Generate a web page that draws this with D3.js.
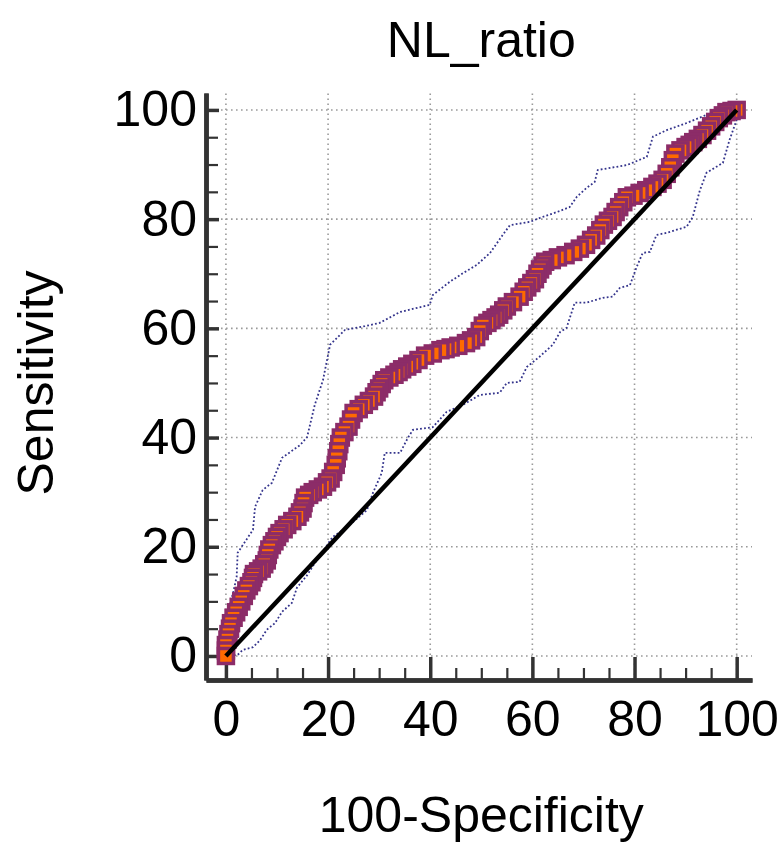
<!DOCTYPE html>
<html>
<head>
<meta charset="utf-8">
<script src="https://cdn.jsdelivr.net/npm/d3@7"></script>
<style>
  html, body { margin: 0; padding: 0; background: #fff; }
  svg { display: block; }
  text { font-family: "Liberation Sans", Arial, sans-serif; fill: #000; }
</style>
</head>
<body>
<svg id="chart" width="783" height="846"></svg>
<script>
// ROC curve points (100-Specificity, Sensitivity)
const rocX = [0,0,0,0.3,0.5,0.8,1,1.5,2,2.5,3,3.5,4,4.5,5,5.3,5.5,6.3,7,7.5,8,8.2,8.5,9,9.5,10,10.5,11.3,12,13,14,14.5,15,15.2,15.5,16.3,17,18,19,19.8,20.5,21,21.5,21.7,22,22.2,22.5,23.2,24,24.5,25,26,27,28,29,29.5,30,30.5,31,32,33,33.8,34.5,35.5,36.5,37.7,39,40.5,42,43,44,45.5,47,48,49,49.7,50.3,51.2,52,52.8,53.5,54.3,55,56.2,57.5,58.3,59,59.8,60.5,61,61.5,62,62.5,63.8,65,66.5,68,69.3,70.5,71.5,72.5,73.3,74,74.8,75.7,76.3,77,77.8,78.5,79.8,81,82.3,83.5,84.5,85.5,86.3,87,87.5,88,89,90,90.8,91.5,92.4,93.3,94.2,95,95.8,96.5,97.3,98,99,100];
const rocY = [0,1,2,3,4,5,6,7,8,9,10,11,12,12.8,13.5,14.3,15,15.5,16,16.8,17.5,18.5,19.5,20.3,21,21.8,22.5,23.2,24,24.7,25.5,26.3,27,28,29,29.5,30,30.5,31,31.8,32.5,33.7,35,36.2,37.5,38.8,40,41,42,43.3,44.5,45.2,46,46.7,47.5,48.3,49,49.8,50.5,51,51.5,52,52.5,53,53.5,54.2,55,55.4,56,56.2,56.5,56.8,57.3,57.8,58.4,59.5,60.5,61,61.5,62,62.5,63.3,64,64.8,65.8,66.7,67.5,68.3,69,70,70.8,71.5,72.2,72.5,73,73.4,74,74.6,75.3,76.2,77,78,79,79.7,80.4,81.3,82.2,83.1,84,84.3,84.8,85.3,85.9,86.5,87.2,88.3,89.5,90.8,92,92.6,93.2,93.6,94.1,94.7,95.4,96.2,97,97.8,98.5,99,99.6,99.8,100];

// Upper confidence bound
const upX = [0,0,0.8,1.4,2.1,2.3,5.3,5.7,7.2,9.0,11.0,14.5,15.9,17.4,19.0,20.4,23.3,27.2,30.1,34.1,39.9,40.5,43.8,46.4,49.1,51.7,54.2,55.6,59.5,61.4,64.8,67.3,68.7,70.6,72.2,72.8,78.5,82.4,83.6,86.3,90.2,94.1,96.7,100];
const upY = [0,6.6,9.7,11.5,14.5,18.9,23.1,27.3,30.4,31.7,36.3,38.6,40.1,46.0,50.5,57.0,59.7,60.4,61.0,63.0,64.3,66.1,68.5,70.1,71.6,73.8,77.1,78.9,79.5,80.2,81.3,82.2,84.1,85.7,86.8,89.0,89.9,91.4,95.1,96.3,97.6,99.1,99.6,100];

// Lower confidence bound
const loX = [0,2.3,3.3,5.3,6.7,8.0,9.6,11.0,12.9,13.9,15.9,17.4,20.9,23.7,27.6,28.8,30.5,31.1,34.1,35.6,36.6,40.5,43.2,46.4,49.7,53.6,55.0,57.5,58.9,61.4,64.0,65.4,66.7,68.3,70.6,73.8,75.7,77.1,79.1,80.4,81.6,83.0,84.3,86.3,90.2,91.4,92.8,94.1,97.3,98.6,100,100];
const loY = [0,0.2,1.1,1.6,2.9,4.8,6.0,8.1,9.7,12.5,14.8,17.0,21.8,23.6,26.7,29.9,33.5,37.2,37.2,39.9,41.4,41.9,44.7,46.0,47.8,48.2,50.0,50.2,52.9,54.8,57.0,59.3,60.1,64.7,64.7,65.6,65.8,67.4,67.9,71.2,73.8,74.0,77.1,77.5,78.6,80.4,85.3,88.5,90.3,94.5,98.2,100];

// Reference diagonal
const diagX = [0, 100];
const diagY = [0, 100];

// Ticks
const majorTicks = [0, 20, 40, 60, 80, 100];
const minorTicks = [5, 10, 15, 25, 30, 35, 45, 50, 55, 65, 70, 75, 85, 90, 95];
const gridTicks = [0, 20, 40, 60, 80, 100];

const title = "NL_ratio";
const xLabel = "100-Specificity";
const yLabel = "Sensitivity";

const svg = d3.select("#chart");
const FONT = 50;

const x = d3.scaleLinear().domain([-3.9, 103]).range([206, 752]);
const y = d3.scaleLinear().domain([-4.4, 103.1]).range([680, 93]);

// Grid
const grid = svg.append("g");
grid.selectAll("line.v").data(gridTicks).join("line")
  .attr("x1", d => x(d)).attr("x2", d => x(d))
  .attr("y1", y.range()[0]).attr("y2", y.range()[1])
  .attr("stroke", "#9a9a9a").attr("stroke-width", 1.6)
  .attr("stroke-dasharray", "1.6,3.4");
grid.selectAll("line.h").data(gridTicks).join("line")
  .attr("y1", d => y(d)).attr("y2", d => y(d))
  .attr("x1", x.range()[0]).attr("x2", x.range()[1])
  .attr("stroke", "#9a9a9a").attr("stroke-width", 1.6)
  .attr("stroke-dasharray", "1.6,3.4");

// Axes
const axisColor = "#333";
function styleAxis(g, major) {
  g.selectAll(".tick line").attr("stroke", axisColor).attr("stroke-width", major ? 3.5 : 2.2);
  g.select(".domain").attr("stroke", axisColor).attr("stroke-width", 4.5);
  g.selectAll("text").attr("font-size", FONT).attr("font-family", '"Liberation Sans", Arial, sans-serif').attr("fill", "#000");
}

const xMinor = svg.append("g").attr("transform", `translate(0,${y.range()[0]})`)
  .call(d3.axisBottom(x).tickValues(minorTicks).tickSizeInner(-12).tickSizeOuter(0).tickFormat(""));
styleAxis(xMinor, false);
const xMajor = svg.append("g").attr("transform", `translate(0,${y.range()[0]})`)
  .call(d3.axisBottom(x).tickValues(majorTicks).tickSizeInner(-23).tickSizeOuter(0).tickPadding(20).tickFormat(d3.format("d")));
styleAxis(xMajor, true);

const yMinor = svg.append("g").attr("transform", `translate(${x.range()[0]},0)`)
  .call(d3.axisLeft(y).tickValues(minorTicks).tickSizeInner(-12).tickSizeOuter(0).tickFormat(""));
styleAxis(yMinor, false);
const yMajor = svg.append("g").attr("transform", `translate(${x.range()[0]},0)`)
  .call(d3.axisLeft(y).tickValues(majorTicks).tickSizeInner(-13).tickSizeOuter(0).tickPadding(9).tickFormat(d3.format("d")));
styleAxis(yMajor, true);

// Confidence bounds
const line = d3.line().x(d => x(d[0])).y(d => y(d[1]));
const upper = upX.map((v, i) => [v, upY[i]]);
const lower = loX.map((v, i) => [v, loY[i]]);
[upper, lower].forEach(pts => {
  svg.append("path").attr("d", line(pts))
    .attr("fill", "none").attr("stroke", "#34348c").attr("stroke-width", 1.8)
    .attr("stroke-dasharray", "1.8,2.2");
});

// ROC markers (drawn from top-right to bottom-left)
const roc = rocX.map((v, i) => [v, rocY[i]]);
const S = 15;
svg.append("g").selectAll("rect").data(roc.slice().reverse()).join("rect")
  .attr("x", d => x(d[0]) - S / 2).attr("y", d => y(d[1]) - S / 2)
  .attr("width", S).attr("height", S)
  .attr("fill", "#ff6a00").attr("stroke", "#8c2c68").attr("stroke-width", 3.5);

// Diagonal
const diag = diagX.map((v, i) => [v, diagY[i]]);
svg.append("path").attr("d", line(diag))
  .attr("fill", "none").attr("stroke", "#000").attr("stroke-width", 4.5);

// Titles
const cx = (x(0) + x(100)) / 2;
svg.append("text").attr("x", cx).attr("y", 57).attr("text-anchor", "middle")
  .attr("font-size", FONT).text(title);
svg.append("text").attr("x", cx).attr("y", 832).attr("text-anchor", "middle")
  .attr("font-size", FONT).text(xLabel);
const cy = (y(0) + y(100)) / 2;
svg.append("text").attr("transform", `translate(53,${cy}) rotate(-90)`)
  .attr("text-anchor", "middle").attr("font-size", FONT).text(yLabel);
</script>
</body>
</html>
